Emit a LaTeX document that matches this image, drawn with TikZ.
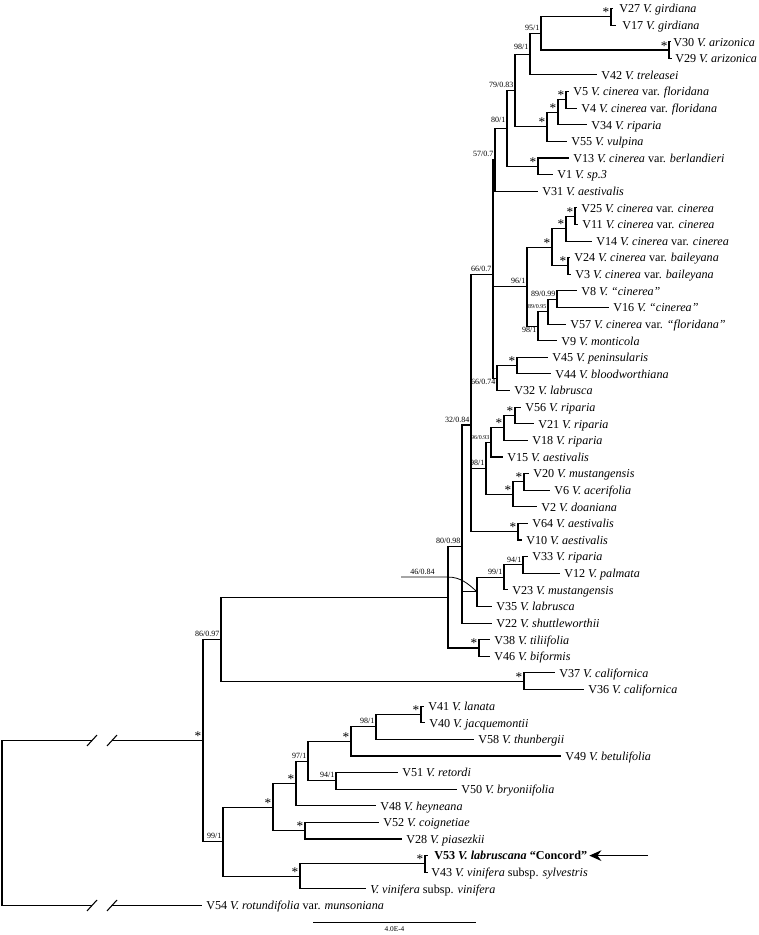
\documentclass[tikz,border=0pt]{standalone}
\usepackage{fontspec}
\setmainfont{Liberation Serif}
\usetikzlibrary{arrows.meta}
\newcommand\mkleaf[4]{\coordinate (#1) at (#2,#3);\node[lab] (n#1) at (#1) {#4};}
\newcommand\mkleafat[5]{\coordinate (#1) at (#2,#3);\node[lab,xshift=-3pt] (n#1) at (#4,#3) {#5};}
\begin{document}
\begin{tikzpicture}[x=0.75pt,y=-12.4575pt,
  br/.style={line width=0.8pt},
  lab/.style={anchor=west,inner sep=0pt,xshift=3pt,font=\fontsize{9.1}{10}\selectfont,text height=6.5pt,text depth=0pt},
  bs/.style={anchor=south east,inner sep=0pt,xshift=-1pt,yshift=2pt,font=\fontsize{6}{6}\selectfont,text depth=0pt},
  bss/.style={anchor=south east,inner sep=0pt,xshift=-1pt,yshift=2pt,font=\fontsize{4.5}{5}\selectfont,text depth=0pt},
  bsb/.style={anchor=north east,inner sep=0pt,xshift=-1pt,yshift=-0.5pt,font=\fontsize{6}{6}\selectfont,text depth=0pt},
  st/.style={anchor=base east,inner sep=0pt,xshift=-1pt,font=\fontsize{10}{10}\selectfont},
  slash/.style={line width=0.8pt}]
\useasboundingbox (0,-0.5117) rectangle (758,55.779);
% leaves
\mkleafat{t27}{613}{0}{619}{V27 \textit{V. girdiana}}
\mkleafat{t17}{616}{1}{622}{V17 \textit{V. girdiana}}
\mkleafat{t30}{671}{2}{673}{V30 \textit{V. arizonica}}
\mkleafat{t29}{672}{3}{675}{V29 \textit{V. arizonica}}
\mkleaf{t42}{597}{4}{V42 \textit{V. treleasei}}
\mkleaf{t5}{569}{5}{V5 \textit{V. cinerea} var. \textit{floridana}}
\mkleaf{t4}{577}{6}{V4 \textit{V. cinerea} var. \textit{floridana}}
\mkleaf{t34}{587}{7}{V34 \textit{V. riparia}}
\mkleaf{t55}{567}{8}{V55 \textit{V. vulpina}}
\mkleaf{t13}{569}{9}{V13 \textit{V. cinerea} var. \textit{berlandieri}}
\mkleaf{t1}{553}{10}{V1 \textit{V. sp.3}}
\mkleaf{t31}{538}{11}{V31 \textit{V. aestivalis}}
\mkleaf{t25}{577}{12}{V25 \textit{V. cinerea} var. \textit{cinerea}}
\mkleaf{t11}{578}{13}{V11 \textit{V. cinerea} var. \textit{cinerea}}
\mkleaf{t14}{592}{14}{V14 \textit{V. cinerea} var. \textit{cinerea}}
\mkleaf{t24}{570}{15}{V24 \textit{V. cinerea} var. \textit{baileyana}}
\mkleaf{t3}{571}{16}{V3 \textit{V. cinerea} var. \textit{baileyana}}
\mkleaf{t8}{577}{17}{V8 \textit{V. “cinerea”}}
\mkleaf{t16}{609}{18}{V16 \textit{V. “cinerea”}}
\mkleaf{t57}{566}{19}{V57 \textit{V. cinerea} var. \textit{“floridana”}}
\mkleaf{t9}{557}{20}{V9 \textit{V. monticola}}
\mkleaf{t45}{548}{21}{V45 \textit{V. peninsularis}}
\mkleaf{t44}{551}{22}{V44 \textit{V. bloodworthiana}}
\mkleaf{t32}{510}{23}{V32 \textit{V. labrusca}}
\mkleaf{t56}{521}{24}{V56 \textit{V. riparia}}
\mkleaf{t21}{534}{25}{V21 \textit{V. riparia}}
\mkleaf{t18}{528}{26}{V18 \textit{V. riparia}}
\mkleaf{t15}{503}{27}{V15 \textit{V. aestivalis}}
\mkleaf{t20}{529}{28}{V20 \textit{V. mustangensis}}
\mkleaf{t6}{550}{29}{V6 \textit{V. acerifolia}}
\mkleaf{t2}{537}{30}{V2 \textit{V. doaniana}}
\mkleaf{t64}{528}{31}{V64 \textit{V. aestivalis}}
\mkleaf{t10}{522}{32}{V10 \textit{V. aestivalis}}
\mkleaf{t33}{528}{33}{V33 \textit{V. riparia}}
\mkleaf{t12}{560}{34}{V12 \textit{V. palmata}}
\mkleaf{t23}{508}{35}{V23 \textit{V. mustangensis}}
\mkleaf{t35}{492}{36}{V35 \textit{V. labrusca}}
\mkleaf{t22}{492}{37}{V22 \textit{V. shuttleworthii}}
\mkleaf{t38}{490}{38}{V38 \textit{V. tiliifolia}}
\mkleaf{t46}{490}{39}{V46 \textit{V. biformis}}
\mkleaf{t37}{555}{40}{V37 \textit{V. californica}}
\mkleaf{t36}{584}{41}{V36 \textit{V. californica}}
\mkleaf{t41}{424}{42}{V41 \textit{V. lanata}}
\mkleafat{t40}{425}{43}{429}{V40 \textit{V. jacquemontii}}
\mkleaf{t58}{474}{44}{V58 \textit{V. thunbergii}}
\mkleaf{t49}{561}{45}{V49 \textit{V. betulifolia}}
\mkleaf{t51}{398}{46}{V51 \textit{V. retordi}}
\mkleaf{t50}{457}{47}{V50 \textit{V. bryoniifolia}}
\mkleaf{t48}{376}{48}{V48 \textit{V. heyneana}}
\mkleaf{t52}{379}{49}{V52 \textit{V. coignetiae}}
\mkleaf{t28}{402}{50}{V28 \textit{V. piasezkii}}
\mkleafat{t53}{428}{51}{434}{\textbf{V53 \textit{V. labruscana} “Concord”}}
\mkleafat{t43}{428}{52}{431}{V43 \textit{V. vinifera} subsp. \textit{sylvestris}}
\mkleaf{tvv}{366}{53}{\textit{V. vinifera} subsp. \textit{vinifera}}
\mkleaf{t54}{202}{54}{V54 \textit{V. rotundifolia} var. \textit{munsoniana}}
% internal nodes
\coordinate (A) at (611,0.5);
\coordinate (B) at (669,2.5);
\coordinate (n95) at (541,1.5);
\coordinate (n98a) at (530,2.75);
\coordinate (C) at (566,5.5);
\coordinate (D) at (558,6.25);
\coordinate (E) at (547,7.125);
\coordinate (n79) at (515,4.9375);
\coordinate (F) at (538,9.5);
\coordinate (n80) at (507,7.21875);
\coordinate (n57) at (495,9.109375);
\coordinate (G) at (575,12.5);
\coordinate (H) at (566,13.25);
\coordinate (I) at (568,15.5);
\coordinate (J) at (552,14.375);
\coordinate (K) at (557,17.5);
\coordinate (L) at (548,18.25);
\coordinate (M) at (538,19.125);
\coordinate (n96) at (527,16.75);
\coordinate (N) at (517,21.5);
\coordinate (n66b) at (497,22.25);
\coordinate (n66a) at (493,16.036458);
\coordinate (O) at (515,24.5);
\coordinate (P) at (504,25.25);
\coordinate (Q) at (491,26.125);
\coordinate (R) at (524,28.5);
\coordinate (S) at (513,29.25);
\coordinate (T) at (486,27.6875);
\coordinate (U) at (518,31.5);
\coordinate (n32) at (471,25.074653);
\coordinate (n94) at (523,33.5);
\coordinate (n99a) at (504,34.25);
\coordinate (W) at (477,35.125);
\coordinate (X) at (462,32.399884);
\coordinate (Y) at (479,38.5);
\coordinate (Z) at (448,35.449942);
\coordinate (CA) at (524,40.5);
\coordinate (n86) at (221,37.974971);
\coordinate (AA) at (421,42.5);
\coordinate (AB) at (376,43.25);
\coordinate (AC) at (351,44.125);
\coordinate (AD) at (336,46.5);
\coordinate (AE) at (308,45.3125);
\coordinate (AF) at (296,46.65625);
\coordinate (AG) at (305,49.5);
\coordinate (AH) at (273,48.078125);
\coordinate (AI) at (425,51.5);
\coordinate (AJ) at (300,52.25);
\coordinate (AK) at (223,50.1640625);
\coordinate (IN) at (203,44.069517);
\coordinate (ROOT) at (2,49.034759);
\coordinate (brk1) at (92,44.069517);
\coordinate (brk2) at (112,44.069517);
\coordinate (b54a) at (92,54);
\coordinate (b54b) at (112,54);
% branches
\draw[br] (A) |- (t27) (A) |- (t17);
\draw[br] (B) |- (t30) (B) |- (t29);
\draw[br] (n95) |- (A) (n95) |- (B);
\draw[br] (n98a) |- (n95) (n98a) |- (t42);
\draw[br] (C) |- (t5) (C) |- (t4);
\draw[br] (D) |- (C) (D) |- (t34);
\draw[br] (E) |- (D) (E) |- (t55);
\draw[br] (n79) |- (n98a) (n79) |- (E);
\draw[br] (F) |- (t13) (F) |- (t1);
\draw[br] (n80) |- (n79) (n80) |- (F);
\draw[br] (n57) |- (n80) (n57) |- (t31);
\draw[br] (G) |- (t25) (G) |- (t11);
\draw[br] (H) |- (G) (H) |- (t14);
\draw[br] (I) |- (t24) (I) |- (t3);
\draw[br] (J) |- (H) (J) |- (I);
\draw[br] (K) |- (t8) (K) |- (t16);
\draw[br] (L) |- (K) (L) |- (t57);
\draw[br] (M) |- (L) (M) |- (t9);
\draw[br] (n96) |- (J) (n96) |- (M);
\draw[br] (N) |- (t45) (N) |- (t44);
\draw[br] (n66b) |- (N) (n66b) |- (t32);
\draw[br] (n66a) |- (n57) (n66a) |- (n96) (n66a) |- (n66b);
\draw[br] (O) |- (t56) (O) |- (t21);
\draw[br] (P) |- (O) (P) |- (t18);
\draw[br] (Q) |- (P) (Q) |- (t15);
\draw[br] (R) |- (t20) (R) |- (t6);
\draw[br] (S) |- (R) (S) |- (t2);
\draw[br] (T) |- (Q) (T) |- (S);
\draw[br] (U) |- (t64) (U) |- (t10);
\draw[br] (n32) |- (n66a) (n32) |- (T) (n32) |- (U);
\draw[br] (n94) |- (t33) (n94) |- (t12);
\draw[br] (n99a) |- (n94) (n99a) |- (t23);
\draw[br] (W) |- (n99a) (W) |- (t35);
\draw[br] (X) |- (n32) (X) |- (W) (X) |- (t22);
\draw[br] (Y) |- (t38) (Y) |- (t46);
\draw[br] (Z) |- (X) (Z) |- (Y);
\draw[br] (CA) |- (t37) (CA) |- (t36);
\draw[br] (n86) |- (Z) (n86) |- (CA);
\draw[br] (AA) |- (t41) (AA) |- (t40);
\draw[br] (AB) |- (AA) (AB) |- (t58);
\draw[br] (AC) |- (AB) (AC) |- (t49);
\draw[br] (AD) |- (t51) (AD) |- (t50);
\draw[br] (AE) |- (AC) (AE) |- (AD);
\draw[br] (AF) |- (AE) (AF) |- (t48);
\draw[br] (AG) |- (t52) (AG) |- (t28);
\draw[br] (AH) |- (AF) (AH) |- (AG);
\draw[br] (AI) |- (t53) (AI) |- (t43);
\draw[br] (AJ) |- (AI) (AJ) |- (tvv);
\draw[br] (AK) |- (AH) (AK) |- (AJ);
\draw[br] (IN) |- (n86) (IN) |- (AK);
\draw[br] (ROOT) |- (brk1) (brk2) -- (IN);
\draw[br] (ROOT) |- (b54a) (b54b) -- (t54);
% break marks
\foreach \c in {brk1,brk2,b54a,b54b}
  \draw[slash] ([xshift=-3.75pt,yshift=-4.1pt]\c) -- ([xshift=3.75pt,yshift=4.1pt]\c);
% stars
\foreach \c in {A,B,C,D,E,F,G,H,I,J,N,O,P,R,S,U,Y,CA,AA,AC,AF,AG,AH,AI,AJ,IN}
  \node[st] (s\c) at (\c) {*};
% support values
\node[bs] (b95) at (n95) {95/1};
\node[bs,yshift=1pt] (b98a) at (n98a) {98/1};
\node[bs] (b79) at (n79) {79/0.83};
\node[bs,yshift=2.5pt] (b80) at (n80) {80/1};
\node[bs] (b57) at (n57) {57/0.7};
\node[bs] (b66a) at (n66a) {66/0.7};
\node[bs] (b96) at (n96) {96/1};
\node[bs] (bK) at (K) {89/0.99};
\node[bss] (bL) at (L) {89/0.95};
\node[bsb] (bM) at (M) {98/1};
\node[bsb] (b66b) at (n66b) {66/0.74};
\node[bs] (b32) at (n32) {32/0.84};
\node[bss] (bQ) at (Q) {96/0.93};
\node[bs] (bT) at (T) {98/1};
\node[bs] (b94) at (n94) {94/1};
\node[bs] (b99a) at (n99a) {99/1};
\node[bs] (bX) at (X) {80/0.98};
\node[bs] (b86) at (n86) {86/0.97};
\node[bs] (bAB) at (AB) {98/1};
\node[bs] (bAE) at (AE) {97/1};
\node[bs] (bAD) at (AD) {94/1};
\node[bs] (bAK) at (AK) {99/1};
% leader for 46/0.84
\coordinate (ld1) at (401,34.23);
\coordinate (ld2) at (448,34.23);
\draw[line width=0.6pt] (ld1) -- (ld2) .. controls (460,34.23) and (468,34.6) .. (W);
\node[anchor=south,inner sep=0pt,yshift=1.5pt,font=\fontsize{6}{6}\selectfont,text depth=0pt] (bW) at (422.5,34.23) {46/0.84};
% arrow
\coordinate (arr) at (648,51);
\draw[line width=1pt,-{Stealth[length=9pt,width=8pt]}] (arr) -- ([xshift=1.5pt]nt53.east);
% scale bar
\coordinate (sb1) at (313,55);
\coordinate (sb2) at (476,55);
\draw[br] (sb1) -- (sb2);
\node[anchor=north,inner sep=0pt,yshift=-3.5pt,font=\fontsize{5.5}{6}\selectfont] (sbl) at (394.5,55) {4.0E-4};
\end{tikzpicture}
\end{document}
